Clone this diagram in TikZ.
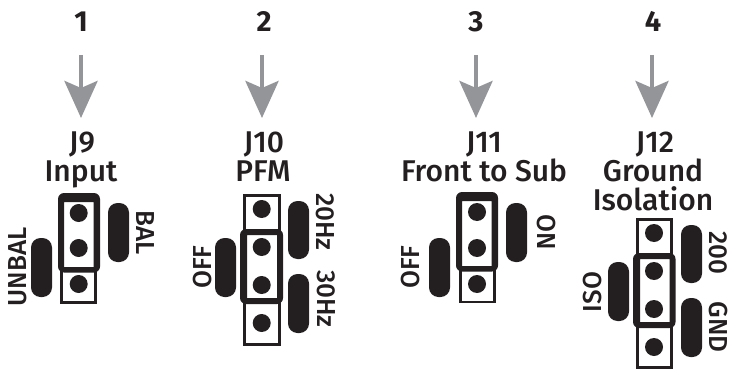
\documentclass[tikz,border=0pt]{standalone}
\usepackage{fontspec}
\setmainfont{Fira Sans Medium}[BoldFont={Fira Sans Bold}]
\usetikzlibrary{arrows.meta}

\definecolor{inkblack}{RGB}{35,31,32}
\definecolor{arrowgrey}{RGB}{147,149,152}

\tikzset{
  every picture/.style={line width=0.75pt},
  pointer/.style={draw=arrowgrey,line width=4.5,-{Stealth[length=37,width=33,inset=7,fill=arrowgrey]}},
  header/.style={draw=inkblack,line width=2.8},
  jumper/.style={fill=inkblack,even odd rule},
  pad/.style={fill=inkblack,rounded corners=9.5},
  pin/.style={fill=inkblack},
  numtext/.style={anchor=base,inner sep=0,text=inkblack,font=\fontsize{29}{29}\selectfont\bfseries},
  titletext/.style={anchor=base,inner sep=0,text=inkblack,font=\fontsize{30}{30}\selectfont},
  padtext/.style={inner sep=0,text=inkblack,font=\fontsize{26}{26}\selectfont}
}

\begin{document}
\begin{tikzpicture}[x=1pt,y=1pt,yscale=-1,xscale=1]
    \useasboundingbox (0,0) rectangle (730,369);

    % Text Node
    \node (num1) [numtext] at (81,32) {1};
    \node (num2) [numtext] at (264,32) {2};
    \node (num3) [numtext] at (476,32) {3};
    \node (num4) [numtext] at (653,32) {4};

    %Arrows
    \coordinate (tail1) at (81,55);
    \coordinate (tip1) at (81,118);
    \coordinate (tail2) at (262,55);
    \coordinate (tip2) at (262,118);
    \coordinate (tail3) at (476,55);
    \coordinate (tip3) at (476,118);
    \coordinate (tail4) at (652,55);
    \coordinate (tip4) at (652,118);
    \draw [pointer] (tail1) -- (tip1);
    \draw [pointer] (tail2) -- (tip2);
    \draw [pointer] (tail3) -- (tip3);
    \draw [pointer] (tail4) -- (tip4);

    % Text Node
    \node (j9) [titletext] at (82,152) {J9};
    \node (input) [titletext] at (81,181) {Input};
    \node (j10) [titletext] at (264,152) {J10};
    \node (pfm) [titletext] at (263,181) {PFM};
    \node (j11) [titletext] at (484,152) {J11};
    \node (front) [titletext] at (484,181) {Front to Sub};
    \node (j12) [titletext] at (655,152) {J12};
    \node (ground) [titletext] at (653,181) {Ground};
    \node (isolation) [titletext] at (653,210) {Isolation};

    %Shape: J9
    \draw [header] (61.4,270) -- (61.4,302.6) -- (95.8,302.6) -- (95.8,270);
    \fill [jumper,rounded corners=6] (58,193) rectangle (100,272.5) [sharp corners] (64,202) rectangle (93.5,267);
    \fill [pin] (78.7,213) circle (9);
    \fill [pin] (78.7,248) circle (9);
    \fill [pin] (78.7,284) circle (9);
    \fill [pad] (108,203) rectangle (129,262);
    \fill [pad] (31,238) rectangle (52,297);
    \node (bal) [padtext,rotate=-90] at (145,233) {BAL};
    \node (unbal) [padtext,rotate=90] at (18,267) {UNBAL};

    %Shape: J10
    \draw [header] (244.4,195.4) rectangle (279.6,344.6);
    \fill [jumper,rounded corners=6] (240,229) rectangle (283,304) [sharp corners] (247,235) rectangle (277,298);
    \fill [pin] (261.7,209) circle (9);
    \fill [pin] (261.7,247) circle (9);
    \fill [pin] (261.7,285) circle (9);
    \fill [pin] (261.7,323) circle (9);
    \fill [pad] (288,201) rectangle (309,259);
    \fill [pad] (288,274) rectangle (309,333);
    \fill [pad] (215,238) rectangle (236,297);
    \node (hz20) [padtext,rotate=-90] at (325,222) {20Hz};
    \node (hz30) [padtext,rotate=-90] at (326,299) {30Hz};
    \node (off10) [padtext,rotate=90] at (203,267) {OFF};

    %Shape: J11
    \draw [header] (460.4,270) -- (460.4,302) -- (494.6,302) -- (494.6,270);
    \fill [jumper,rounded corners=6] (456,192) rectangle (498,271.5) [sharp corners] (462,201) rectangle (491.5,266);
    \fill [pin] (477,212) circle (9);
    \fill [pin] (477,248) circle (9);
    \fill [pin] (477,284) circle (9);
    \fill [pad] (506,203) rectangle (527,262);
    \fill [pad] (429,238) rectangle (450,297);
    \node (on) [padtext,rotate=-90] at (546,232) {ON};
    \node (off11) [padtext,rotate=90] at (411,267) {OFF};

    %Shape: J12
    \draw [header] (637.4,219.4) rectangle (671.6,367.6);
    \fill [jumper,rounded corners=6] (633,253) rectangle (675.5,328) [sharp corners] (640,259) rectangle (669.5,322);
    \fill [pin] (654,233) circle (9);
    \fill [pin] (654,271) circle (9);
    \fill [pin] (654,309) circle (9);
    \fill [pin] (654,347) circle (9);
    \fill [pad] (681,225) rectangle (702,283);
    \fill [pad] (681,298) rectangle (702,357);
    \fill [pad] (608,262) rectangle (629,321);
    \node (ohm200) [padtext,rotate=-90] at (718,253) {200};
    \node (gnd) [padtext,rotate=-90] at (718,327) {GND};
    \node (iso) [padtext,rotate=90] at (593,292) {ISO};
\end{tikzpicture}
\end{document}
